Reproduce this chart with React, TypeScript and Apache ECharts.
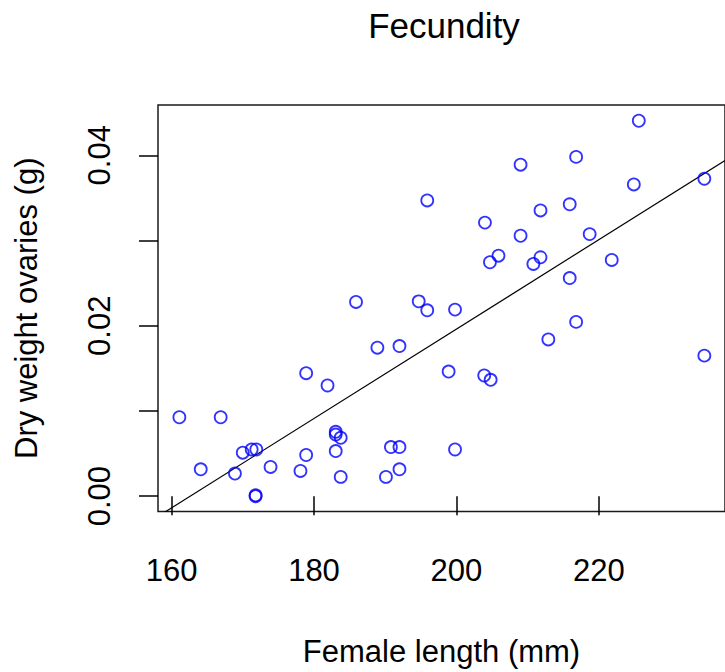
import React, { useEffect, useRef } from "react";
import * as echarts from "echarts";

const lengths = [
  161.1, 166.9, 164.1, 168.9, 170.0, 171.25, 171.9, 171.8, 171.8, 173.9,
  178.1, 178.9, 178.9, 181.9, 183.05, 183.05, 183.75, 183.05, 183.75, 185.9,
  188.9, 190.1, 190.8, 192.0, 192.0, 192.0, 194.7, 195.9, 195.9, 198.9,
  199.8, 199.8, 203.9, 204.8, 204.0, 204.7, 205.9, 209.0, 209.0, 210.8,
  211.8, 211.8, 212.9, 215.9, 215.9, 216.8, 216.8, 218.7, 221.8, 224.9,
  225.6, 234.8, 234.8,
];
const ovaryWeights = [
  0.00926, 0.00926, 0.00315, 0.00265, 0.0051, 0.00548, 0.00548, 0.0001, 0.0, 0.00343,
  0.00296, 0.00483, 0.01443, 0.01299, 0.00755, 0.00723, 0.00685, 0.00529, 0.00226, 0.02279,
  0.01742, 0.00226, 0.00576, 0.00576, 0.00315, 0.01761, 0.02286, 0.02181, 0.0347, 0.01462,
  0.02189, 0.00548, 0.01416, 0.01365, 0.0321, 0.02745, 0.02822, 0.0389, 0.03056, 0.02725,
  0.02803, 0.03353, 0.01839, 0.03425, 0.02559, 0.03981, 0.02045, 0.03075, 0.02772, 0.03658,
  0.04405, 0.03725, 0.01649,
];

const xTicks = [160, 180, 200, 220];
const yTicks = [0, 0.01, 0.02, 0.03, 0.04];
const yLabels = [0, 0.02, 0.04];

const fitIntercept = -0.08533;
const fitSlope = 0.0005247;

const xMin = 158.1;
const xMax = 237.7;
const yMin = -0.0018;
const yMax = 0.0459;

const FONT = "'Liberation Sans', Arial, sans-serif";

export default function App() {
  const ref = useRef<HTMLDivElement>(null);

  useEffect(() => {
    if (!ref.current) return;
    const chart = echarts.init(ref.current, null, { renderer: "svg" });
    const points = lengths.map((x, i) => [x, ovaryWeights[i]]);
    const fitLine = [xMin, xMax].map((x) => [x, fitIntercept + fitSlope * x]);

    chart.setOption({
      animation: false,
      backgroundColor: "#ffffff",
      grid: {
        left: 158,
        top: 105,
        width: 573,
        height: 410,
        show: true,
        borderColor: "#1a1a1a",
        borderWidth: 1.5,
        backgroundColor: "transparent",
      },
      graphic: [
        {
          type: "text",
          x: 444,
          y: 25,
          style: {
            text: "Fecundity",
            font: `normal 35px ${FONT}`,
            fill: "#000",
            align: "center",
            verticalAlign: "middle",
            textAlign: "center",
            textVerticalAlign: "middle",
          },
        },
      ],
      xAxis: {
        type: "value",
        min: xMin,
        max: xMax,
        name: "Female length (mm)",
        nameLocation: "middle",
        nameGap: 140,
        nameTextStyle: {
          fontFamily: FONT,
          fontSize: 31,
          color: "#000",
          verticalAlign: "middle",
        },
        axisLine: { show: false },
        splitLine: { show: false },
        axisTick: {
          show: true,
          inside: false,
          length: 19,
          customValues: xTicks,
          lineStyle: { color: "#000", width: 1.5 },
        },
        axisLabel: {
          customValues: xTicks,
          margin: 59,
          fontFamily: FONT,
          fontSize: 31,
          color: "#000",
          verticalAlign: "middle",
          formatter: (v: number) => String(Math.round(v)),
        },
      },
      yAxis: {
        type: "value",
        min: yMin,
        max: yMax,
        name: "Dry weight ovaries (g)",
        nameLocation: "middle",
        nameGap: 132,
        nameTextStyle: {
          fontFamily: FONT,
          fontSize: 31,
          color: "#000",
          verticalAlign: "middle",
        },
        axisLine: { show: false },
        splitLine: { show: false },
        axisTick: {
          show: true,
          inside: false,
          length: 19,
          customValues: yTicks,
          lineStyle: { color: "#000", width: 1.5 },
        },
        axisLabel: {
          customValues: yLabels,
          rotate: 90,
          margin: 59,
          fontFamily: FONT,
          fontSize: 31,
          color: "#000",
          align: "center",
          verticalAlign: "middle",
          formatter: (v: number) => v.toFixed(2),
        },
      },
      series: [
        {
          type: "line",
          data: fitLine,
          showSymbol: false,
          symbol: "none",
          clip: true,
          lineStyle: { color: "#000", width: 1.2 },
          z: 2,
        },
        {
          type: "scatter",
          data: points,
          symbol: "circle",
          symbolSize: 12,
          clip: false,
          itemStyle: {
            color: "rgba(0,0,0,0)",
            borderColor: "#0000ff",
            borderWidth: 1.8,
          },
          z: 3,
        },
      ],
    });

    return () => chart.dispose();
  }, []);

  return (
    <div
      ref={ref}
      style={{ position: "absolute", left: 0, top: 0, width: 725, height: 672 }}
    />
  );
}
